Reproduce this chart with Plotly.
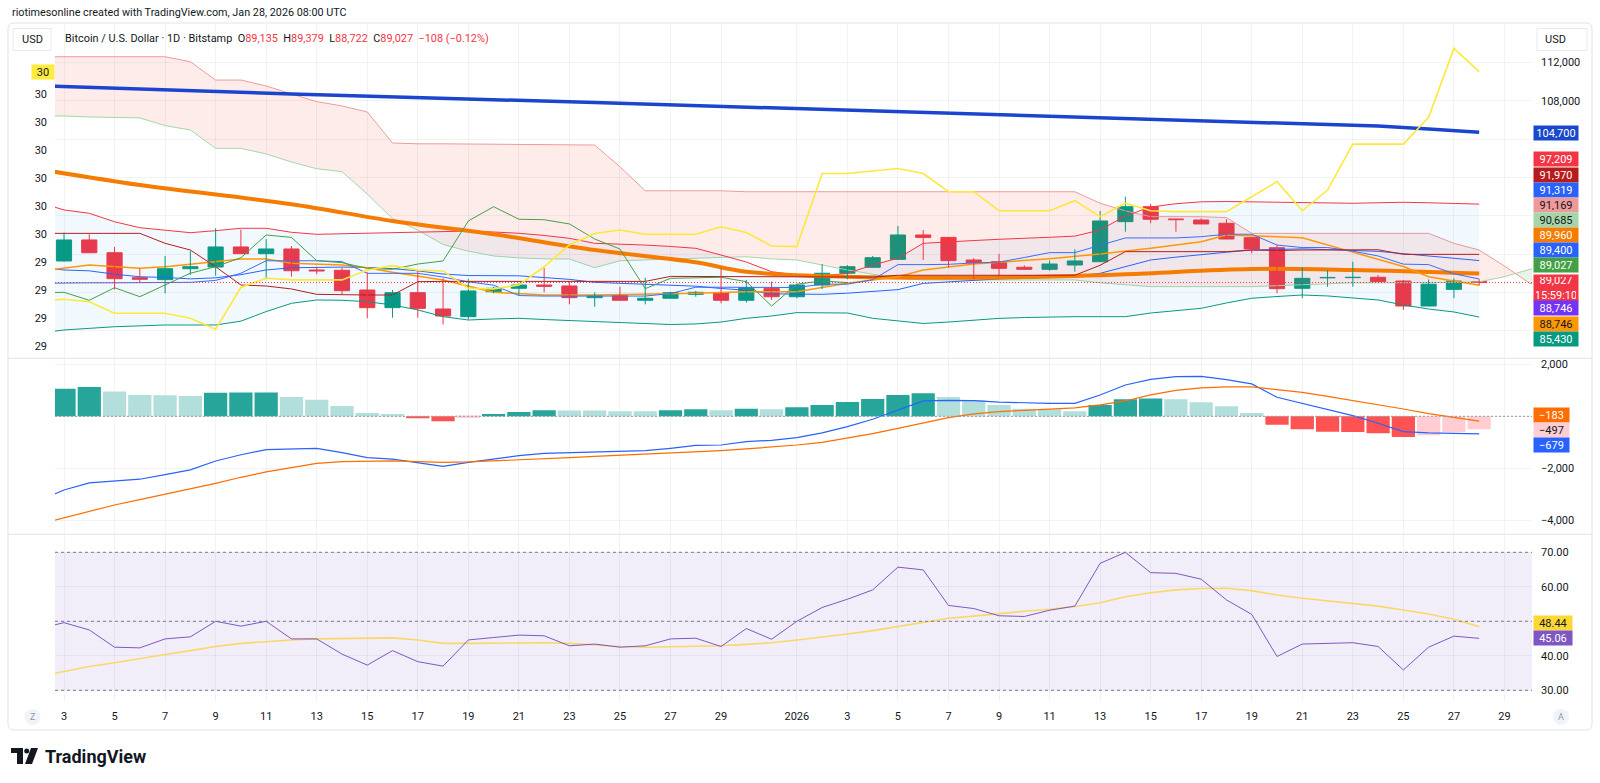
import plotly.graph_objects as go
import pandas as pd

# ---------------- DATA ----------------
dates = pd.date_range("2025-12-02", "2026-01-28", freq="D")  # 58 daily bars (Dec 2 is just off-screen)

open_ = [86300, 91280, 93470, 92140, 89530, 89330, 90470, 90650, 92740, 92040,
         92530, 90340, 90310, 88250, 86410, 87970, 86270, 85470, 88070, 88430,
         88770, 88670, 87450, 87660, 87180, 87390, 87800, 87970, 87180, 88430,
         87550, 88770, 90000, 90620, 91450, 93990, 93740, 91380, 91200, 90620,
         90410, 90860, 91200, 95380, 96940, 95660, 95550, 95210, 93710, 92660,
         88430, 89520, 89540, 89580, 89190, 86580, 88320, 89135]
high = [92300, 94230, 94060, 92740, 90510, 91800, 92320, 94690, 94540, 93570,
        92840, 90680, 90580, 90100, 88250, 90340, 89470, 89400, 88590, 88950,
        90580, 89050, 88010, 88590, 89530, 88070, 88150, 90510, 89290, 89120,
        88880, 90960, 90860, 91800, 94930, 94510, 93760, 91560, 92010, 90830,
        91310, 92500, 96490, 97980, 97220, 95660, 95730, 95630, 93710, 92940,
        90620, 90340, 91200, 89820, 89290, 89350, 89470, 89379]
low = [86200, 91200, 92100, 88320, 89050, 87910, 89820, 89740, 92000, 89400,
       89640, 89890, 87730, 85300, 85360, 85360, 84650, 85170, 87910, 87730,
       88010, 86760, 86510, 87150, 86760, 87380, 87550, 86860, 86930, 87210,
       87390, 88360, 89370, 90600, 91430, 91380, 90620, 89370, 89640, 90400,
       90260, 90160, 91200, 94330, 95210, 94330, 95120, 93550, 92080, 87910,
       87390, 88590, 88590, 89100, 86170, 86550, 87390, 88722]
close = [91280, 93470, 92140, 89430, 89370, 90470, 90680, 92740, 92040, 92530,
         90260, 90230, 88180, 86410, 87970, 86340, 85540, 88150, 88430, 88770,
         88630, 87450, 87660, 87180, 87390, 87970, 88010, 87180, 88490, 87550,
         88770, 90000, 90680, 91620, 93990, 93740, 91310, 91100, 90510, 90410,
         90960, 91280, 95450, 96940, 95630, 95580, 95140, 93570, 92530, 88390,
         89470, 89560, 89580, 89120, 86580, 88860, 89190, 89027]

# Bollinger bands (daily, same dates)
bb_upper = [97400, 96600, 96250, 95370, 94750, 94510, 94230, 94440, 94690, 94690,
            94270, 94060, 94110, 94170, 94270, 94330, 94370, 94400, 94300, 94170,
            93940, 93640, 93120, 93050, 92940, 92790, 92600, 91900, 91170, 90160,
            89820, 89710, 89990, 90860, 91560, 93120, 93290, 93410, 93540, 93620,
            93750, 93870, 94510, 95970, 96910, 97250, 97450, 97480, 97450, 97400,
            97350, 97300, 97300, 97350, 97400, 97350, 97280, 97209]
bb_lower = [83750, 84080, 84250, 84420, 84510, 84600, 84600, 84600, 85000, 86000,
            86860, 87210, 87180, 87030, 86690, 86170, 85470, 85120, 85230, 85300,
            85170, 85070, 84980, 84860, 84760, 84650, 84710, 84910, 85300, 85540,
            85890, 85890, 85850, 85300, 85020, 84760, 84910, 85120, 85290, 85380,
            85440, 85470, 85470, 85470, 85850, 86110, 86340, 86900, 87390, 87570,
            87730, 87630, 87420, 87210, 86690, 86270, 85960, 85430]
bb_basis = [90580, 90340, 90250, 89900, 89630, 89560, 89410, 89520, 89850, 90340,
            90570, 90630, 90640, 90600, 90480, 90250, 89920, 89760, 89760, 89730,
            89550, 89360, 89050, 88950, 88850, 88720, 88650, 88410, 88230, 87850,
            87850, 87800, 87920, 88080, 88290, 88940, 89100, 89270, 89410, 89500,
            89590, 89670, 89990, 90720, 91380, 91680, 91900, 92190, 92420, 92490,
            92540, 92460, 92360, 92280, 92040, 91810, 91620, 91319]

# Ichimoku conversion / base lines (daily)
tenkan = [88950, 89000, 89000, 89000, 89000, 89000, 89050, 89250, 90000, 91300,
          91300, 91300, 91210, 89990, 89990, 89990, 89600, 89110, 88750, 87670,
          87620, 87620, 87620, 87620, 87620, 87880, 88540, 88540, 88540, 88510,
          88510, 88860, 88860, 89330, 90900, 90900, 90930, 91070, 91160, 91640,
          92150, 92150, 92930, 93680, 93680, 93680, 93810, 94070, 94070, 92940,
          92680, 92680, 92300, 91800, 90950, 90900, 89940, 89400]
kijun = [94160, 94160, 94160, 94160, 94160, 93120, 92420, 90680, 88770, 88670,
         88360, 87800, 87730, 87730, 87730, 89120, 89150, 89150, 89150, 89150,
         89150, 89150, 89150, 89150, 89150, 89670, 89670, 89670, 89670, 89670,
         89670, 89670, 89670, 89600, 89790, 89790, 89790, 89790, 89790, 89790,
         89790, 89790, 90830, 92250, 92250, 92250, 92250, 92250, 92420, 92370,
         92420, 92420, 92420, 92450, 91970, 91970, 91970, 91970]

# Ichimoku cloud (leading spans, displaced into the future)
cloud_dates = list(pd.date_range("2025-12-02", "2026-01-29", freq="D")) + [
    pd.Timestamp("2026-01-29 10:26"), pd.Timestamp("2026-01-30"), pd.Timestamp("2026-01-31")]
span_a = [106400, 106400, 106300, 106250, 106200, 105400, 104940, 103030, 103030, 102440,
          101600, 100900, 100600, 98260, 95700, 94500, 93000, 92300, 91800, 91600,
          91500, 91480, 90580, 91300, 91400, 91500, 91560, 91650, 91720, 91500,
          91380, 90850, 90340, 89900, 89470, 89300, 89300, 89300, 89300, 89300,
          89300, 89300, 89000, 88800, 88600, 88600, 88600, 88600, 88600, 88700,
          88800, 88900, 89000, 89000, 89000, 89000, 89050, 89100, 89640,
          89970, 90400, 91000]
span_b = [112580, 112580, 112580, 112580, 112580, 112580, 112060, 110150, 110150, 109530,
          108700, 107900, 107450, 106820, 103580, 103500, 103500, 103480, 103450, 103420,
          103400, 103380, 103370, 101100, 98600, 98600, 98600, 98600, 98500, 98500,
          98500, 98500, 98500, 98500, 98500, 98500, 98500, 98500, 98500, 98500,
          98500, 98500, 97300, 96500, 95900, 95900, 95900, 95800, 94160, 94160,
          94160, 94160, 94160, 94160, 94160, 94160, 93120, 92420, 90750,
          89970, 88950, 88500]
CLOUD_CROSS = 59  # index where span A crosses above span B
LAG = 25          # lagging span shift (bars)

# Moving averages (read at sample dates)
sma_long_dates = ["2025-12-02", "2025-12-12", "2025-12-24", "2026-01-04", "2026-01-16",
                  "2026-01-24", "2026-01-26", "2026-01-28"]
sma_long = [109560, 108700, 107800, 106950, 106000, 105350, 105050, 104700]
sma_mid_dates = ["2025-12-02", "2025-12-06", "2025-12-12", "2025-12-16", "2025-12-20",
                 "2025-12-24", "2025-12-28", "2025-12-30", "2026-01-03", "2026-01-10",
                 "2026-01-14", "2026-01-19", "2026-01-23", "2026-01-28"]
sma_mid = [100850, 99200, 97200, 95450, 94060, 92420, 91140, 90160, 89640, 89600,
           89890, 90440, 90340, 89960]
ema_dates = ["2025-12-02", "2025-12-04", "2025-12-06", "2025-12-07", "2025-12-08",
             "2025-12-10", "2025-12-11", "2025-12-12", "2025-12-14", "2025-12-15",
             "2025-12-16", "2025-12-18", "2025-12-20", "2025-12-22", "2025-12-24",
             "2025-12-26", "2025-12-28", "2025-12-30", "2026-01-01", "2026-01-03",
             "2026-01-05", "2026-01-06", "2026-01-08", "2026-01-11", "2026-01-13",
             "2026-01-15", "2026-01-17", "2026-01-18", "2026-01-21", "2026-01-23",
             "2026-01-25", "2026-01-26", "2026-01-28"]
ema = [90200, 90850, 90520, 90680, 90930, 91480, 91480, 91030, 90860, 90580,
       90100, 89290, 88010, 87730, 87730, 87800, 87910, 88070, 88070, 88950,
       89640, 90340, 90960, 91520, 92010, 92600, 93290, 93990, 93710, 92200,
       90700, 89640, 88746]

# Left-scale oscillator (yellow)
osc = [29.261, 29.267, 29.258, 29.217, 29.217, 29.217, 29.199, 29.160, 29.309, 29.342,
       29.336, 29.336, 29.336, 29.371, 29.387, 29.371, 29.368, 29.306, 29.304, 29.318,
       29.383, 29.461, 29.502, 29.514, 29.499, 29.499, 29.499, 29.526, 29.505, 29.457,
       29.455, 29.716, 29.716, 29.725, 29.734, 29.716, 29.651, 29.651, 29.583, 29.583,
       29.583, 29.619, 29.562, 29.610, 29.583, 29.580, 29.580, 29.580, 29.633, 29.687,
       29.583, 29.657, 29.821, 29.821, 29.821, 29.917, 30.163, 30.080]

# MACD
macd_hist = [980, 1064, 1128, 949, 820, 812, 782, 910, 915, 918,
             744, 641, 397, 128, 90, -77, -192, -70, 90, 167,
             231, 225, 220, 192, 190, 231, 269, 231, 295, 269,
             346, 436, 551, 667, 820, 885, 744, 615, 436, 295,
             269, 192, 436, 654, 680, 654, 538, 385, 128, -321,
             -500, -590, -603, -654, -795, -731, -603, -497]
macd_line = [-3250, -2833, -2560, -2490, -2420, -2240, -2060, -1718, -1480, -1282,
             -1260, -1231, -1400, -1590, -1650, -1790, -1923, -1769, -1641, -1513,
             -1423, -1397, -1359, -1345, -1321, -1230, -1120, -1103, -974, -923,
             -821, -640, -397, -115, 244, 590, 615, 603, 545, 510,
             500, 500, 821, 1205, 1423, 1526, 1538, 1410, 1244, 731,
             487, 244, 26, -269, -590, -641, -660, -679]
macd_signal = [-4150, -3910, -3654, -3410, -3205, -3000, -2782, -2577, -2346, -2141,
               -1974, -1808, -1744, -1718, -1718, -1744, -1769, -1756, -1718, -1679,
               -1641, -1590, -1538, -1500, -1462, -1423, -1372, -1321, -1256, -1192,
               -1103, -1000, -846, -667, -462, -244, -51, 90, 179, 231,
               269, 321, 436, 590, 821, 1000, 1090, 1128, 1128, 1038,
               923, 769, 615, 462, 282, 103, -51, -183]

# RSI
rsi = [47.9, 49.6, 47.5, 42.5, 42.3, 44.9, 45.5, 50.0, 48.6, 50.0,
       44.9, 44.9, 40.5, 37.3, 41.5, 38.3, 37.0, 44.6, 45.3, 46.0,
       45.8, 42.9, 43.4, 42.5, 42.9, 44.9, 45.1, 42.7, 47.9, 44.8,
       50.0, 54.0, 56.4, 59.1, 65.7, 64.9, 54.6, 53.7, 51.6, 51.4,
       53.2, 54.4, 66.8, 70.0, 64.1, 63.9, 62.2, 56.2, 52.0, 39.8,
       43.4, 43.7, 43.8, 42.7, 35.9, 42.5, 45.7, 45.06]
rsi_ma = [34.0, 35.4, 36.9, 38.0, 39.3, 40.4, 41.5, 42.7, 43.6, 44.2,
          44.6, 44.9, 45.0, 45.3, 45.2, 44.6, 43.6, 43.6, 43.7, 43.8,
          43.8, 43.6, 43.1, 42.7, 42.5, 42.6, 42.8, 42.9, 43.3, 43.8,
          44.6, 45.4, 46.3, 47.3, 48.5, 49.9, 50.9, 51.5, 52.3, 52.9,
          53.5, 54.3, 55.4, 57.1, 58.3, 59.1, 59.5, 59.6, 58.9, 57.6,
          56.7, 56.0, 55.2, 54.4, 53.3, 52.1, 50.6, 48.44]

# Axis ticks / labels (empty text = tick hidden behind a value label in the original)
x_tick_dates = ([f"2025-12-{d:02d}" for d in range(3, 30, 2)] + ["2026-01-01"] +
                [f"2026-01-{d:02d}" for d in range(3, 30, 2)])
x_tick_text = ([str(d) for d in range(3, 30, 2)] + ["2026"] + [str(d) for d in range(3, 30, 2)])
price_ticks = [84000, 88000, 92000, 96000, 100000, 104000, 108000, 112000]
price_tick_text = ["", "", "", "", "", "", "108,000", "112,000"]
osc_ticks = [29.1, 29.2, 29.3, 29.4, 29.5, 29.6, 29.7, 29.8, 29.9, 30.0, 30.1]
osc_tick_text = ["29", "29", "29", "29", "30", "30", "30", "30", "30", "30", ""]
macd_ticks = [2000, 0, -2000, -4000]
macd_tick_text = ["2,000", "", "\u22122,000", "\u22124,000"]
rsi_ticks = [30, 40, 50, 60, 70]
rsi_tick_text = ["30.00", "40.00", "", "60.00", "70.00"]

price_labels = [("104,700", "#1848CC", "white"), ("97,209", "#F23645", "white"),
                ("91,970", "#B71C1C", "white"), ("91,319", "#2962FF", "white"),
                ("91,169", "#EF9A9A", "#131722"), ("90,685", "#A5D6A7", "#131722"),
                ("89,960", "#F57C00", "white"), ("89,400", "#2962FF", "white"),
                ("89,027", "#43A047", "white"), ("89,027<br>15:59:10", "#F23645", "white"),
                ("88,746", "#7434F5", "white"), ("88,746", "#FF9800", "#131722"),
                ("85,430", "#089981", "white")]
macd_labels = [("\u2212183", "#FF6D00", "white"), ("\u2212497", "#FFCDD2", "#131722"),
               ("\u2212679", "#2962FF", "white")]
rsi_labels = [("48.44", "#FDD835", "#131722"), ("45.06", "#7E57C2", "white")]

# ---------------- LAYOUT GEOMETRY ----------------
W, H = 1600, 783
def px(x): return x / W
def py(y): return 1 - y / H

X0, X1 = px(55), px(1532)
MAIN = [py(358), py(23.5)]
MACDD = [py(534), py(358.5)]
RSID = [py(702), py(534.5)]
DAY = 86400000
FONT = "Roboto, Open Sans, sans-serif"
TXT = "#131722"
GRID = "rgba(42,46,57,0.06)"
UP, DN = "#089981", "#F23645"

fig = go.Figure()

# ---- Ichimoku cloud fills ----
ci = CLOUD_CROSS
fig.add_trace(go.Scatter(x=cloud_dates[:ci + 1], y=span_a[:ci + 1], mode="lines",
                         line=dict(width=0), hoverinfo="skip", showlegend=False))
fig.add_trace(go.Scatter(x=cloud_dates[:ci + 1], y=span_b[:ci + 1], mode="lines",
                         line=dict(width=0), fill="tonexty", fillcolor="rgba(244,67,54,0.10)",
                         hoverinfo="skip", showlegend=False))
fig.add_trace(go.Scatter(x=cloud_dates[ci:], y=span_b[ci:], mode="lines",
                         line=dict(width=0), hoverinfo="skip", showlegend=False))
fig.add_trace(go.Scatter(x=cloud_dates[ci:], y=span_a[ci:], mode="lines",
                         line=dict(width=0), fill="tonexty", fillcolor="rgba(67,160,71,0.12)",
                         hoverinfo="skip", showlegend=False))
fig.add_trace(go.Scatter(x=cloud_dates, y=span_a, mode="lines",
                         line=dict(color="#A5D6A7", width=1), showlegend=False))
fig.add_trace(go.Scatter(x=cloud_dates, y=span_b, mode="lines",
                         line=dict(color="#EF9A9A", width=1), showlegend=False))

# ---- Bollinger ----
fig.add_trace(go.Scatter(x=dates, y=bb_lower, mode="lines", line=dict(width=0),
                         hoverinfo="skip", showlegend=False))
fig.add_trace(go.Scatter(x=dates, y=bb_upper, mode="lines", line=dict(width=0),
                         fill="tonexty", fillcolor="rgba(33,150,243,0.06)",
                         hoverinfo="skip", showlegend=False))
fig.add_trace(go.Scatter(x=dates, y=bb_upper, mode="lines", line=dict(color="#F23645", width=1),
                         showlegend=False))
fig.add_trace(go.Scatter(x=dates, y=bb_lower, mode="lines", line=dict(color="#089981", width=1),
                         showlegend=False))
fig.add_trace(go.Scatter(x=dates, y=bb_basis, mode="lines", line=dict(color="#2962FF", width=1),
                         showlegend=False))

# ---- MAs ----
fig.add_trace(go.Scatter(x=sma_long_dates, y=sma_long, mode="lines",
                         line=dict(color="#1C45CF", width=3.5), showlegend=False))
fig.add_trace(go.Scatter(x=sma_mid_dates, y=sma_mid, mode="lines", line_shape="spline",
                         line=dict(color="#F57C00", width=4), showlegend=False))
fig.add_trace(go.Scatter(x=ema_dates, y=ema, mode="lines",
                         line=dict(color="#FF9800", width=1.5), showlegend=False))

# ---- Ichimoku lines ----
fig.add_trace(go.Scatter(x=dates, y=tenkan, mode="lines", line=dict(color="#3A6DFF", width=1),
                         showlegend=False))
fig.add_trace(go.Scatter(x=dates, y=kijun, mode="lines", line=dict(color="#B71C1C", width=1),
                         showlegend=False))
fig.add_trace(go.Scatter(x=dates[:-LAG], y=close[LAG:], mode="lines",
                         line=dict(color="#43A047", width=1), showlegend=False))

# ---- Candles: wicks then bodies ----
for is_up, col in ((True, UP), (False, DN)):
    wx, wy = [], []
    for d, o, h, l, c in zip(dates, open_, high, low, close):
        if (c >= o) == is_up:
            wx += [d, d, None]
            wy += [l, h, None]
    fig.add_trace(go.Scatter(x=wx, y=wy, mode="lines", line=dict(color=col, width=1),
                             hoverinfo="skip", showlegend=False))
body_cols = [UP if c >= o else DN for o, c in zip(open_, close)]
fig.add_trace(go.Bar(x=dates, y=[c - o for o, c in zip(open_, close)], base=open_,
                     width=0.6 * DAY, marker=dict(color=body_cols, line=dict(color=body_cols, width=1)),
                     showlegend=False, hoverinfo="skip"))

# ---- yellow left-scale oscillator ----
fig.add_trace(go.Scatter(x=dates, y=osc, mode="lines", line=dict(color="#FFE83B", width=1.6),
                         xaxis="x", yaxis="y2", showlegend=False))

# ---- MACD ----
hist_cols = []
for i, hv in enumerate(macd_hist):
    prev = macd_hist[i - 1] if i > 0 else hv - 1
    if hv >= 0:
        hist_cols.append("#26A69A" if hv > prev else "#B2DFDB")
    else:
        hist_cols.append("#FFCDD2" if hv > prev else "#FF5252")
fig.add_trace(go.Bar(x=dates, y=macd_hist, width=0.92 * DAY, marker=dict(color=hist_cols, line=dict(width=0)),
                     xaxis="x2", yaxis="y3", showlegend=False))
fig.add_trace(go.Scatter(x=dates, y=macd_line, mode="lines", line=dict(color="#2962FF", width=1.2),
                         xaxis="x2", yaxis="y3", showlegend=False))
fig.add_trace(go.Scatter(x=dates, y=macd_signal, mode="lines", line=dict(color="#FF6D00", width=1.2),
                         xaxis="x2", yaxis="y3", showlegend=False))

# ---- RSI ----
fig.add_trace(go.Scatter(x=dates, y=rsi_ma, mode="lines", line=dict(color="rgba(250,212,80,0.85)", width=1.6),
                         xaxis="x3", yaxis="y4", showlegend=False))
fig.add_trace(go.Scatter(x=dates, y=rsi, mode="lines", line=dict(color="#7E57C2", width=1),
                         xaxis="x3", yaxis="y4", showlegend=False))

# ---------------- AXES ----------------
x_range = ["2025-12-02 15:27", "2026-01-30 02:10"]
xcommon = dict(type="date", range=x_range, domain=[X0, X1], tickvals=x_tick_dates,
               showgrid=True, gridcolor=GRID, zeroline=False, showline=False, ticks="")
axis_font = dict(family=FONT, size=11, color=TXT)

fig.update_layout(
    width=W, height=H, margin=dict(l=0, r=0, t=0, b=0),
    paper_bgcolor="white", plot_bgcolor="white", barmode="overlay", showlegend=False,
    xaxis=dict(**xcommon, anchor="y", showticklabels=False),
    xaxis2=dict(**xcommon, anchor="y3", matches="x", showticklabels=False),
    xaxis3=dict(**xcommon, anchor="y4", matches="x", showticklabels=True,
                ticktext=x_tick_text, tickfont=axis_font, ticklabelstandoff=6),
    yaxis=dict(domain=MAIN, range=[81159, 116047], side="right", anchor="x",
               tickvals=price_ticks, ticktext=price_tick_text,
               tickfont=axis_font, showgrid=True, gridcolor=GRID, zeroline=False,
               ticks="", ticklabelstandoff=8),
    yaxis2=dict(overlaying="y", side="left", anchor="x", range=[29.0571, 30.2518],
                tickvals=osc_ticks, ticktext=osc_tick_text, tickfont=axis_font,
                showgrid=False, zeroline=False, ticks="", ticklabelstandoff=7),
    yaxis3=dict(domain=MACDD, range=[-4527, 2223], side="right", anchor="x2",
                tickvals=macd_ticks, ticktext=macd_tick_text, tickfont=axis_font,
                showgrid=True, gridcolor=GRID, zeroline=False, ticks="", ticklabelstandoff=8),
    yaxis4=dict(domain=RSID, range=[26.61, 75.16], side="right", anchor="x3",
                tickvals=rsi_ticks, ticktext=rsi_tick_text, tickfont=axis_font,
                showgrid=True, gridcolor=GRID, zeroline=False, ticks="", ticklabelstandoff=8),
)

# ---------------- SHAPES ----------------
shapes = []
shapes.append(dict(type="rect", xref="paper", yref="y4", x0=X0, x1=X1, y0=30, y1=70,
                   fillcolor="rgba(126,87,194,0.10)", line=dict(width=0), layer="below"))
for lv in (30, 50, 70):
    shapes.append(dict(type="line", xref="paper", yref="y4", x0=X0, x1=X1, y0=lv, y1=lv,
                       line=dict(color="#787B86", width=1, dash="3px,3px")))
shapes.append(dict(type="line", xref="paper", yref="y3", x0=X0, x1=X1, y0=0, y1=0,
                   line=dict(color="#9598A1", width=1, dash="2px,2px")))
shapes.append(dict(type="line", xref="paper", yref="y", x0=X0, x1=X1, y0=close[-1], y1=close[-1],
                   line=dict(color="#F23645", width=1, dash="1px,2px")))
for yy in (358.2, 534.2):
    shapes.append(dict(type="line", xref="paper", yref="paper", x0=px(8), x1=px(1592),
                       y0=py(yy), y1=py(yy), line=dict(color="#E0E3EB", width=1)))
rx, ry = 6 / W, 6 / H
fx0, fx1, fy0, fy1 = px(8), px(1592), py(730), py(23)
frame = (f"M {fx0+rx},{fy1} L {fx1-rx},{fy1} Q {fx1},{fy1} {fx1},{fy1-ry} "
         f"L {fx1},{fy0+ry} Q {fx1},{fy0} {fx1-rx},{fy0} L {fx0+rx},{fy0} "
         f"Q {fx0},{fy0} {fx0},{fy0+ry} L {fx0},{fy1-ry} Q {fx0},{fy1} {fx0+rx},{fy1} Z")
shapes.append(dict(type="path", xref="paper", yref="paper", path=frame,
                   line=dict(color="#E0E3EB", width=1)))
for (a, b) in ((13, 51), (1537, 1587)):
    shapes.append(dict(type="rect", xref="paper", yref="paper", x0=px(a), x1=px(b),
                       y0=py(50.5), y1=py(28.5), fillcolor="white",
                       line=dict(color="#E8EAF0", width=1)))
for cx in (32.5, 1561):
    shapes.append(dict(type="circle", xref="paper", yref="paper", x0=px(cx - 8), x1=px(cx + 8),
                       y0=py(725), y1=py(709), fillcolor="#F0F3FA", line=dict(width=0)))
shapes.append(dict(type="path", xref="paper", yref="paper",
                   path=(f"M {px(11)},{py(748)} L {px(23)},{py(748)} L {px(23)},{py(764)} "
                         f"L {px(17)},{py(764)} L {px(17)},{py(753)} L {px(11)},{py(753)} Z"),
                   fillcolor="#131722", line=dict(width=0)))
shapes.append(dict(type="circle", xref="paper", yref="paper", x0=px(24.2), x1=px(29.2),
                   y0=py(753.5), y1=py(748.5), fillcolor="#131722", line=dict(width=0)))
shapes.append(dict(type="path", xref="paper", yref="paper",
                   path=(f"M {px(31)},{py(748)} L {px(38)},{py(748)} L {px(32)},{py(764)} "
                         f"L {px(25)},{py(764)} Z"),
                   fillcolor="#131722", line=dict(width=0)))
fig.update_layout(shapes=shapes)

# ---------------- ANNOTATIONS ----------------
ann = []
def box(text, bg, fg, yc, width=40, height=10):
    ann.append(dict(xref="paper", yref="paper", x=px(1533), y=py(yc), xanchor="left",
                    yanchor="middle", text=text, showarrow=False, bgcolor=bg, borderpad=2,
                    width=width, height=height, align="center", valign="middle",
                    font=dict(family=FONT, size=11, color=fg)))

price_label_y = [133.3, 159.3, 174.7, 190, 205, 220, 235, 250, 265, 288.3, 308.3, 324, 339.3]
for (t, bg, fg), yc in zip(price_labels, price_label_y):
    box(t, bg, fg, yc, height=22 if "<br>" in t else 10)
for (t, bg, fg), yc in zip(macd_labels, [415.3, 430.3, 445.3]):
    box(t, bg, fg, yc, width=31)
for (t, bg, fg), yc in zip(rsi_labels, [623.3, 638.3]):
    box(t, bg, fg, yc, width=34)

ann.append(dict(xref="paper", yref="paper", x=px(55), y=py(72), xanchor="right", yanchor="middle",
                text="30", showarrow=False, bgcolor="#FFEB3B", borderpad=2, width=18, height=10,
                align="center", font=dict(family=FONT, size=11, color=TXT)))

ann.append(dict(xref="paper", yref="paper", x=px(10), y=py(13), xanchor="left", yanchor="middle",
                text="riotimesonline created with TradingView.com, Jan 28, 2026 08:00 UTC",
                showarrow=False, font=dict(family=FONT, size=10.8, color=TXT)))
R = "#F23645"
legend = (f"Bitcoin / U.S. Dollar · 1D · Bitstamp&nbsp;&nbsp;O<span style='color:{R}'>{open_[-1]:,}</span>"
          f"&nbsp;&nbsp;H<span style='color:{R}'>{high[-1]:,}</span>"
          f"&nbsp;&nbsp;L<span style='color:{R}'>{low[-1]:,}</span>"
          f"&nbsp;&nbsp;C<span style='color:{R}'>{close[-1]:,}</span>"
          f"&nbsp;&nbsp;<span style='color:{R}'>\u2212108 (\u22120.12%)</span>")
ann.append(dict(xref="paper", yref="paper", x=px(63), y=py(38), xanchor="left", yanchor="middle",
                text=legend, showarrow=False, font=dict(family=FONT, size=10.9, color=TXT)))
ann.append(dict(xref="paper", yref="paper", x=px(32), y=py(39.5), xanchor="center", yanchor="middle",
                text="USD", showarrow=False, font=dict(family=FONT, size=11, color=TXT)))
ann.append(dict(xref="paper", yref="paper", x=px(1543), y=py(39.5), xanchor="left", yanchor="middle",
                text="USD", showarrow=False, font=dict(family=FONT, size=11, color=TXT)))
ann.append(dict(xref="paper", yref="paper", x=px(32.5), y=py(717), text="Z", showarrow=False,
                xanchor="center", yanchor="middle", font=dict(family=FONT, size=9, color="#9598A1")))
ann.append(dict(xref="paper", yref="paper", x=px(1561), y=py(717), text="A", showarrow=False,
                xanchor="center", yanchor="middle", font=dict(family=FONT, size=9, color="#9598A1")))
ann.append(dict(xref="paper", yref="paper", x=px(43), y=py(756), xanchor="left", yanchor="middle",
                text="<b>TradingView</b>", showarrow=False,
                font=dict(family=FONT, size=18, color="#131722")))
fig.update_layout(annotations=ann)

fig.write_html("out.html")
